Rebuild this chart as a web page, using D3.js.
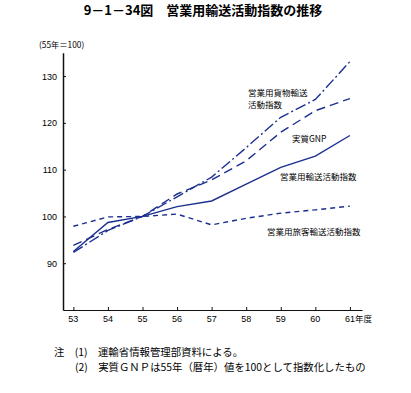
<!DOCTYPE html>
<html>
<head>
<meta charset="utf-8">
<script src="https://cdn.jsdelivr.net/npm/d3@7"></script>
<style>
  body { margin: 0; background: #fff; }
  text { font-family: "Liberation Sans", "Noto Sans CJK JP", sans-serif; }
</style>
</head>
<body>
<script>
// data (index, 55年 = 100)
const years = [53, 54, 55, 56, 57, 58, 59, 60, 61];
const freight = [92.3, 97.0, 100, 104.2, 108.4, 114.7, 121.2, 125.0, 133.1];
const gnp = [93.8, 97.2, 100, 104.8, 107.8, 111.9, 118.0, 122.6, 125.2];
const operating = [92.5, 98.7, 100, 102.1, 103.3, 106.9, 110.5, 112.9, 117.3];
const passenger = [97.9, 99.9, 100, 100.5, 98.2, 99.6, 100.7, 101.4, 102.2];
const yTicks = [90, 100, 110, 120, 130];

const width = 411, height = 393;
const lineColor = '#1b2f8f';
const cjk = '"Noto Sans CJK JP", sans-serif';

const svg = d3.select('body')
  .append('svg')
  .attr('width', width)
  .attr('height', height);

const xscale = d3.scaleLinear()
  .domain([52.7, 61.35])
  .range([63, 362]);

const yscale = d3.scaleLinear()
  .domain([80, 135])
  .range([310, 52.7]);

// title
svg.append('text')
  .attr('x', 203).attr('y', 15)
  .attr('text-anchor', 'middle')
  .style('font-family', cjk)
  .style('font-size', '13px')
  .style('font-weight', 'bold')
  .text('9－1－34図　営業用輸送活動指数の推移');

// unit
svg.append('text')
  .attr('x', 39).attr('y', 48)
  .style('font-family', cjk)
  .style('font-size', '8.3px')
  .text('(55年＝100)');

// y axis
const yaxis = svg.append('g')
  .attr('transform', `translate(${xscale(52.7)}, 0)`)
  .call(d3.axisRight(yscale).tickValues(yTicks).tickSize(3).tickSizeOuter(0).tickFormat(''));
yaxis.select('.domain').attr('stroke', '#111').attr('stroke-width', 1.5);
yaxis.selectAll('.tick line').attr('stroke', '#111');

svg.selectAll('.ylab')
  .data(yTicks)
  .enter()
  .append('text')
  .attr('class', 'ylab')
  .attr('x', 57)
  .attr('y', d => yscale(d) + 3.5)
  .attr('text-anchor', 'end')
  .style('font-size', '9px')
  .text(d => d);

// x axis
const xaxis = svg.append('g')
  .attr('transform', `translate(0, ${yscale(80)})`)
  .call(d3.axisTop(xscale).tickValues(years).tickSize(3).tickSizeOuter(0).tickFormat(''));
xaxis.select('.domain').attr('stroke', '#111').attr('stroke-width', 1.2);
xaxis.selectAll('.tick line').attr('stroke', '#111');

svg.selectAll('.xlab')
  .data(years)
  .enter()
  .append('text')
  .attr('class', 'xlab')
  .attr('x', d => d === 61 ? xscale(d) - 5 : xscale(d))
  .attr('y', 322)
  .attr('text-anchor', d => d === 61 ? 'start' : 'middle')
  .style('font-size', '9px')
  .text(d => d);
svg.append('text')
  .attr('x', xscale(61) + 5).attr('y', 322)
  .style('font-family', cjk)
  .style('font-size', '8.5px')
  .text('年度');

// lines
const series = [
  { values: freight, dash: '11,3,2,3' },
  { values: gnp, dash: '9,5' },
  { values: operating, dash: null },
  { values: passenger, dash: '5,4' }
];

const line = d3.line()
  .x((d, i) => xscale(years[i]))
  .y(d => yscale(d));

svg.selectAll('.series')
  .data(series)
  .enter()
  .append('path')
  .attr('class', 'series')
  .attr('d', d => line(d.values))
  .attr('fill', 'none')
  .attr('stroke', lineColor)
  .attr('stroke-width', 1.4)
  .attr('stroke-dasharray', d => d.dash);

// line labels
const labels = [
  { t: '営業用貨物輸送', x: 248, y: 96 },
  { t: '活動指数', x: 248, y: 108 },
  { t: '実質GNP', x: 292, y: 142 },
  { t: '営業用輸送活動指数', x: 280, y: 180 },
  { t: '営業用旅客輸送活動指数', x: 267, y: 235 }
];
svg.selectAll('.lbl')
  .data(labels)
  .enter()
  .append('text')
  .attr('class', 'lbl')
  .attr('x', d => d.x)
  .attr('y', d => d.y)
  .style('font-family', cjk)
  .style('font-size', '8.5px')
  .text(d => d.t);

// notes
svg.append('text')
  .attr('x', 54).attr('y', 356)
  .style('font-family', cjk)
  .style('font-size', '10.4px')
  .text('注　(1)　運輸省情報管理部資料による。');
svg.append('text')
  .attr('x', 75).attr('y', 371)
  .style('font-family', cjk)
  .style('font-size', '10.4px')
  .text('(2)　実質ＧＮＰは55年（暦年）値を100として指数化したもの');
</script>
</body>
</html>
